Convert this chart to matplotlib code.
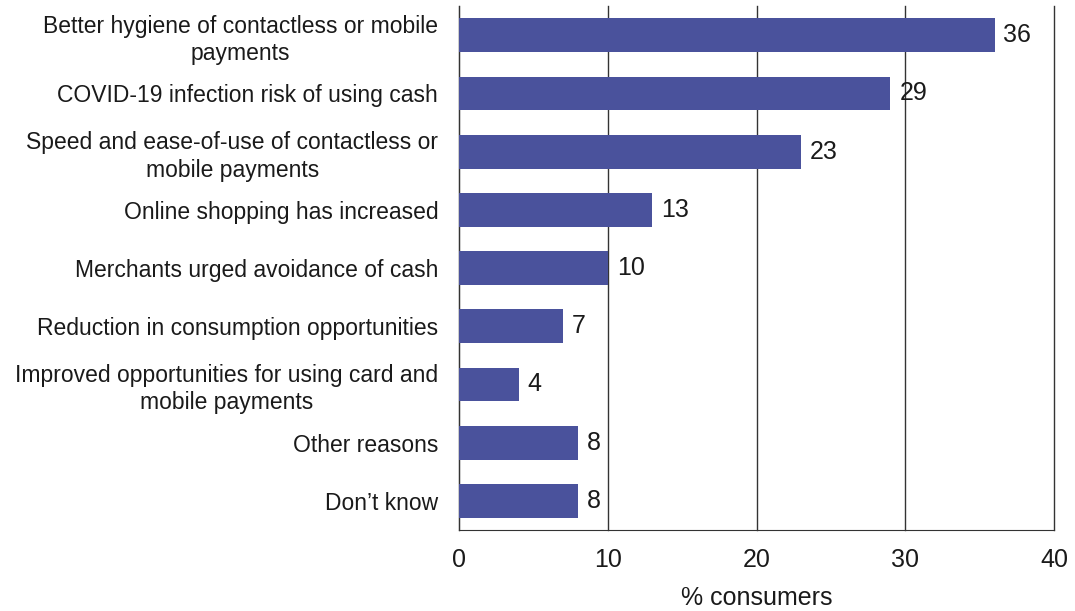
import matplotlib.pyplot as plt

plt.rcParams['font.family'] = ['Liberation Sans', 'DejaVu Sans']

categories = [
    "Better hygiene of contactless or mobile\npayments",
    "COVID-19 infection risk of using cash",
    "Speed and ease-of-use of contactless or\nmobile payments",
    "Online shopping has increased",
    "Merchants urged avoidance of cash",
    "Reduction in consumption opportunities",
    "Improved opportunities for using card and\nmobile payments",
    "Other reasons",
    "Don\u2019t know",
]
values = [36, 29, 23, 13, 10, 7, 4, 8, 8]
x_ticks = [0, 10, 20, 30, 40]


def main():
    fig = plt.figure(figsize=(10.75, 6.11), dpi=100)
    ax = fig.add_axes([0.427, 0.1326, 0.5535, 0.8574])
    ypos = range(len(categories))
    ax.barh(ypos, values, height=0.58, color='#4A529C', zorder=3)
    for y, v in zip(ypos, values):
        ax.text(v + 0.6, y, str(v), va='center', ha='left', fontsize=18,
                color='#1a1a1a', zorder=4)
    ax.set_yticks(list(ypos))
    ax.set_yticklabels(categories, fontsize=16.5, color='#1a1a1a',
                       linespacing=1.25, multialignment='center')
    ax.set_xticks(x_ticks)
    ax.set_xticklabels([str(t) for t in x_ticks], fontsize=18, color='#1a1a1a')
    ax.set_xlim(0, 40)
    ax.set_ylim(len(categories) - 0.5, -0.5)
    ax.xaxis.grid(True, color='#333333', linewidth=1.0, zorder=0)
    for gl in ax.get_xgridlines():
        gl.set_clip_on(False)
    ax.tick_params(axis='x', length=0, pad=13)
    ax.tick_params(axis='y', length=0, pad=15)
    for s in ['top', 'right']:
        ax.spines[s].set_visible(False)
    ax.spines['left'].set_color('#333333')
    ax.spines['bottom'].set_color('#333333')
    ax.set_xlabel('% consumers', fontsize=18, color='#1a1a1a', labelpad=10)
    fig.savefig('out.png', dpi=100)
    return 0


if __name__ == "__main__":
    main()
